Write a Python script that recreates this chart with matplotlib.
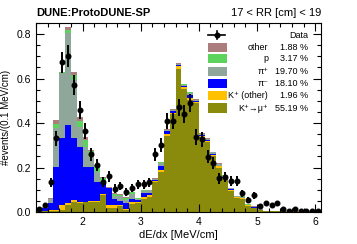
import numpy as np
import matplotlib
matplotlib.use("Agg")
from matplotlib import pyplot as plt
from matplotlib.ticker import MultipleLocator, FormatStrFormatter
from matplotlib.patches import Rectangle
from matplotlib.lines import Line2D

plt.rcParams['font.family'] = ['Liberation Sans', 'DejaVu Sans']

# bin left edges, 0.1 MeV/cm wide
edges = np.round(np.arange(1.2, 6.1, 0.1), 2)

# stacked MC components (per bin)
kmu = [0.004, 0.004, 0.005, 0.005, 0.008, 0.030, 0.045, 0.040, 0.046, 0.046,
       0.045, 0.076, 0.020, 0.020, 0.025, 0.010, 0.035, 0.040, 0.057, 0.069,
       0.136, 0.181, 0.343, 0.440, 0.641, 0.552, 0.503, 0.488, 0.336, 0.316,
       0.252, 0.200, 0.150, 0.095, 0.065, 0.060, 0.028, 0.018, 0.010, 0.004,
       0.004, 0.003, 0.003, 0.002, 0.002, 0.002, 0.002, 0.002, 0.002]
kother = [0.000, 0.000, 0.002, 0.003, 0.022, 0.010, 0.009, 0.006, 0.000, 0.004,
          0.004, 0.004, 0.010, 0.010, 0.005, 0.005, 0.010, 0.005, 0.010, 0.006,
          0.005, 0.008, 0.008, 0.006, 0.015, 0.008, 0.010, 0.006, 0.006, 0.005,
          0.005, 0.005, 0.004, 0.003, 0.002, 0.003, 0.002, 0.002, 0.001, 0.001,
          0.001, 0.001, 0.001, 0.001, 0.001, 0.001, 0.001, 0.001, 0.001]
pim = [0.008, 0.012, 0.035, 0.196, 0.301, 0.351, 0.277, 0.248, 0.158, 0.154,
       0.087, 0.056, 0.077, 0.027, 0.020, 0.024, 0.012, 0.010, 0.020, 0.012,
       0.004, 0.020, 0.012, 0.006, 0.004, 0.005, 0.012, 0.004, 0.005, 0.003,
       0.005, 0.004, 0.002, 0.004, 0.001, 0.001, 0.001, 0.001, 0.000, 0.000,
       0.000, 0.000, 0.000, 0.000, 0.000, 0.000, 0.000, 0.000, 0.000]
pip = [0.004, 0.006, 0.015, 0.172, 0.294, 0.415, 0.262, 0.090, 0.090, 0.046,
       0.044, 0.004, 0.002, 0.016, 0.020, 0.014, 0.023, 0.004, 0.008, 0.010,
       0.004, 0.010, 0.004, 0.005, 0.004, 0.008, 0.010, 0.005, 0.004, 0.004,
       0.006, 0.006, 0.006, 0.005, 0.002, 0.004, 0.002, 0.002, 0.002, 0.001,
       0.000, 0.000, 0.000, 0.000, 0.000, 0.000, 0.000, 0.000, 0.000]
prot = [0.001, 0.002, 0.003, 0.020, 0.005, 0.014, 0.023, 0.025, 0.030, 0.024,
        0.025, 0.015, 0.000, 0.008, 0.008, 0.008, 0.008, 0.003, 0.002, 0.002,
        0.001, 0.005, 0.003, 0.002, 0.003, 0.002, 0.004, 0.002, 0.002, 0.002,
        0.002, 0.003, 0.003, 0.002, 0.001, 0.002, 0.001, 0.001, 0.001, 0.000,
        0.000, 0.000, 0.000, 0.000, 0.000, 0.000, 0.000, 0.000, 0.000]
other = [0.000, 0.000, 0.002, 0.017, 0.000, 0.013, 0.012, 0.019, 0.014, 0.006,
         0.005, 0.004, 0.002, 0.003, 0.002, 0.005, 0.003, 0.002, 0.002, 0.001,
         0.001, 0.002, 0.002, 0.002, 0.001, 0.001, 0.002, 0.001, 0.001, 0.001,
         0.001, 0.001, 0.001, 0.001, 0.001, 0.001, 0.001, 0.001, 0.000, 0.000,
         0.000, 0.000, 0.000, 0.000, 0.000, 0.000, 0.000, 0.000, 0.000]

# data points and errors
data = [0.013, 0.030, 0.133, 0.331, 0.673, 0.703, 0.571, 0.460, 0.365, 0.260,
        0.210, 0.135, 0.160, 0.105, 0.117, 0.091, 0.108, 0.124, 0.124, 0.133,
        0.260, 0.300, 0.410, 0.410, 0.470, 0.440, 0.490, 0.337, 0.327, 0.249,
        0.219, 0.151, 0.157, 0.141, 0.141, 0.084, 0.054, 0.076, 0.027, 0.039,
        0.031, 0.039, 0.012, 0.006, 0.012, 0.006, 0.005, 0.006, 0.003]
data_err = [0.007, 0.010, 0.021, 0.034, 0.048, 0.049, 0.044, 0.040, 0.035, 0.030,
            0.027, 0.021, 0.023, 0.019, 0.020, 0.018, 0.019, 0.021, 0.021, 0.021,
            0.030, 0.032, 0.037, 0.037, 0.040, 0.039, 0.041, 0.034, 0.033, 0.029,
            0.027, 0.023, 0.023, 0.022, 0.022, 0.017, 0.014, 0.016, 0.010, 0.012,
            0.010, 0.012, 0.006, 0.005, 0.006, 0.005, 0.004, 0.005, 0.003]

names = ['K⁺→μ⁺', 'K⁺ (other)', 'π⁻', 'π⁺', 'p', 'other']
fracs = ['55.19 %', '1.96 %', '18.10 %', '19.70 %', '3.17 %', '1.88 %']
colors = ['#8a8a0c', '#ffc000', '#0000ff', '#8fa69b', '#5cd35c', '#ab7d7d']

fig = plt.figure(figsize=(3.57, 2.44), dpi=100)
ax = fig.add_axes([0.101, 0.131, 0.798, 0.775])

bottom = np.zeros(len(edges))
for comp, col in zip([kmu, kother, pim, pip, prot, other], colors):
    ax.bar(edges, comp, width=0.1, bottom=bottom, align='edge', color=col, linewidth=0)
    bottom += np.array(comp)

centers = edges + 0.05
ax.errorbar(centers, data, yerr=data_err, fmt='o', color='black', ms=3.3,
            elinewidth=1.4, capsize=0)

ax.set_xlim(1.2, 6.1)
ax.set_ylim(0, 0.85)
ax.xaxis.set_major_locator(MultipleLocator(1))
ax.xaxis.set_minor_locator(MultipleLocator(0.2))
ax.yaxis.set_major_locator(MultipleLocator(0.2))
ax.yaxis.set_minor_locator(MultipleLocator(0.05))
ax.tick_params(which='both', direction='in', top=True, right=True, labelsize=7.5)
ax.tick_params(which='major', length=6, width=0.8)
ax.tick_params(which='minor', length=3, width=0.8)
ax.yaxis.set_major_formatter(FormatStrFormatter('%.1f'))
for s in ax.spines.values():
    s.set_linewidth(0.8)

ax.set_xlabel('dE/dx [MeV/cm]', fontsize=8, labelpad=2)
ax.set_ylabel('#events/(0.1 MeV/cm)', fontsize=7, labelpad=4)

fig.text(0.101, 0.945, 'DUNE:ProtoDUNE-SP', fontsize=8, fontweight='bold', va='center')
fig.text(0.899, 0.945, '17 < RR [cm] < 19', fontsize=8, ha='right', va='center')

# legend drawn by hand, ROOT style
row_y = [0.550, 0.614, 0.681, 0.742, 0.810, 0.871]
for y, col, nm, fr in zip(row_y, colors, names, fracs):
    ax.add_patch(Rectangle((0.604, y - 0.024), 0.066, 0.048, transform=ax.transAxes,
                           color=col, lw=0))
    ax.text(0.815, y, nm, transform=ax.transAxes, ha='right', va='center', fontsize=6.5)
    ax.text(0.955, y, fr, transform=ax.transAxes, ha='right', va='center', fontsize=6.5)
ax.add_line(Line2D([0.604, 0.664], [0.936, 0.936], transform=ax.transAxes, color='black', lw=1.2))
ax.add_line(Line2D([0.634, 0.634], [0.915, 0.957], transform=ax.transAxes, color='black', lw=1.2))
ax.plot([0.634], [0.936], 'o', color='black', ms=3.3, transform=ax.transAxes)
ax.text(0.955, 0.936, 'Data', transform=ax.transAxes, ha='right', va='center', fontsize=6.5)

fig.savefig('out.png', dpi=100)
